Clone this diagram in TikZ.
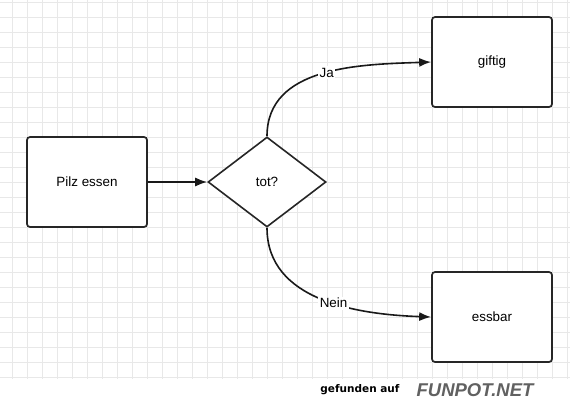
\documentclass[tikz,border=0pt]{standalone}
\usepackage{fontspec}
\setmainfont{Liberation Sans}
\newfontfamily\markefont{DejaVu Sans}
\usetikzlibrary{shapes.geometric, arrows.meta}

\tikzset{
  gitter/.style={draw=black!9, line width=0.7pt},
  kasten/.style={draw=black!85, line width=1.7pt, rounded corners=3pt, fill=white,
    minimum width=120pt, minimum height=90pt, inner sep=0pt,
    font=\fontsize{13.4}{16}\selectfont},
  frage/.style={draw=black!85, line width=1.6pt, diamond, fill=white,
    minimum width=118pt, minimum height=90pt, inner sep=0pt,
    font=\fontsize{13.4}{16}\selectfont},
  pfeil/.style={-{Latex[length=12pt,width=9pt]}, line width=1.6pt, draw=black!90},
  marke/.style={fill=white, inner sep=1.5pt, font=\fontsize{13.4}{16}\selectfont}
}

\begin{document}
\begin{tikzpicture}[x=1pt, y=-1pt]
    % Fond
    \fill[white] (0,0) rectangle (570,400);
    \useasboundingbox (0,0) rectangle (570,400);
    % Quadrillage
    \foreach \x in {12,27,...,567}
        \draw[gitter] (\x,0) -- (\x,379);
    \foreach \y in {2,17,...,377}
        \draw[gitter] (0,\y) -- (570,\y);
    % Noeuds
    \node[kasten] (pilz)   at (87,182)  {Pilz essen};
    \node[frage]  (tot)    at (267,182) {tot?};
    \node[kasten] (giftig) at (492,62)  {giftig};
    \node[kasten] (essbar) at (492,317) {essbar};
    % Fleches
    \draw[pfeil] (pilz) -- (tot);
    \draw[pfeil] (tot.north) to[out=90, in=182]
        node[marke, pos=0.52] (ja) {Ja} (giftig.west);
    \draw[pfeil] (tot.south) to[out=-90, in=178]
        node[marke, pos=0.56] (nein) {Nein} (essbar.west);
    % Signature
    \node (gefunden) at (360,390) {\markefont\bfseries\fontsize{10.5}{12}\selectfont gefunden auf};
    \node[text=black!62] (funpot) at (475,390)
        {\bfseries\itshape\fontsize{18.5}{18}\selectfont FUNPOT.NET};
\end{tikzpicture}
\end{document}
